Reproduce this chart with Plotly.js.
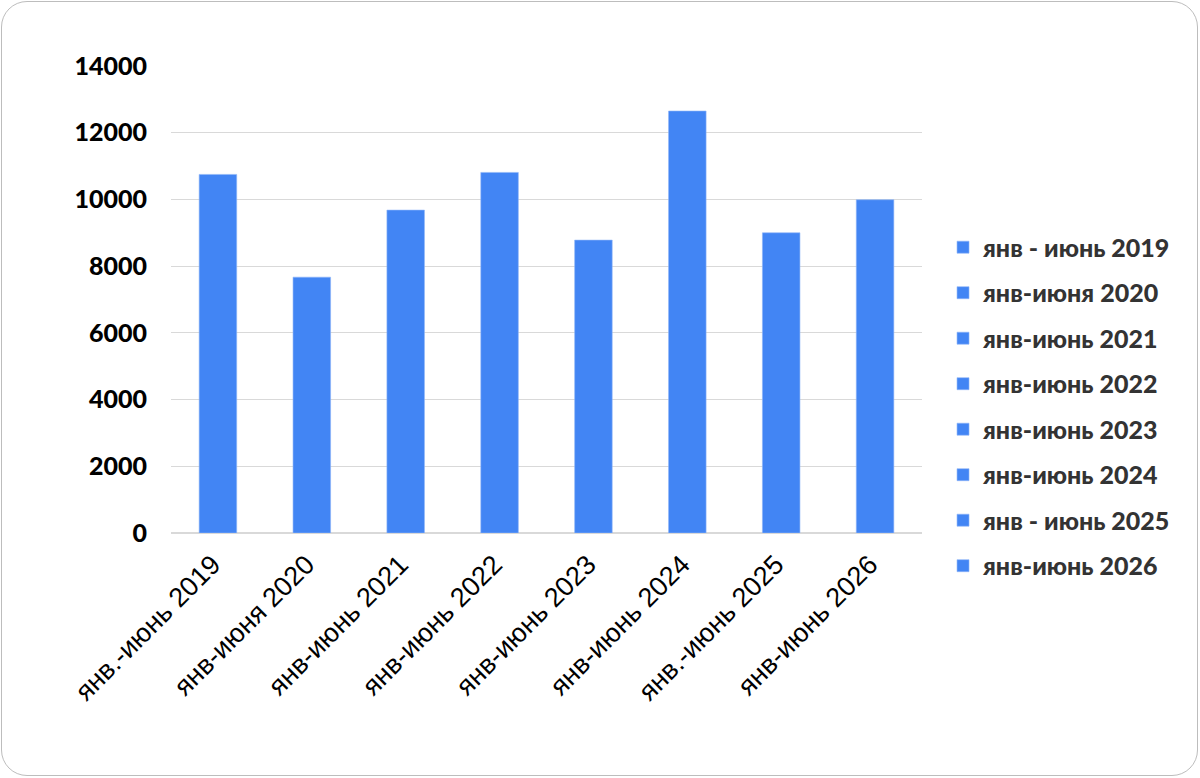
<!DOCTYPE html>
<html>
<head>
<meta charset="utf-8">
<script src="https://cdn.plot.ly/plotly-3.0.1.min.js"></script>
<style>
html,body{margin:0;padding:0;background:#fff;}
#wrap{position:relative;width:1200px;height:778px;}
#chart{position:absolute;left:0;top:0;width:1200px;height:778px;}
#frame{position:absolute;left:1px;top:1px;width:1195px;height:773px;border:1.5px solid #bdbdbd;border-radius:26px;pointer-events:none;}
</style>
</head>
<body>
<div id="wrap"><div id="chart"></div><div id="frame"></div></div>
<script>
const categories = ["янв.-июнь 2019","янв-июня 2020","янв-июнь 2021","янв-июнь 2022","янв-июнь 2023","янв-июнь 2024","янв.-июнь 2025","янв-июнь 2026"];
const legendNames = ["янв - июнь 2019","янв-июня 2020","янв-июнь 2021","янв-июнь 2022","янв-июнь 2023","янв-июнь 2024","янв - июнь 2025","янв-июнь 2026"];
const values = [10750, 7670, 9680, 10810, 8780, 12650, 9000, 9990];
const yTicks = [0, 2000, 4000, 6000, 8000, 10000, 12000, 14000];

const barColor = "#4285F4";

const traces = categories.map((c, i) => ({
  type: "bar",
  x: [c],
  y: [values[i]],
  name: legendNames[i],
  legendgroup: "g" + i,
  marker: {color: barColor, line: {color: "#8fb6f8", width: 0.6}},
  width: 0.4,
  hoverinfo: "x+y"
}));

const layout = {
  width: 1200,
  height: 778,
  margin: {l: 171, r: 278, t: 66, b: 245, pad: 0},
  paper_bgcolor: "rgba(0,0,0,0)",
  plot_bgcolor: "rgba(0,0,0,0)",
  barmode: "overlay",
  showlegend: true,
  xaxis: {
    type: "category",
    categoryorder: "array",
    categoryarray: categories,
    tickvals: categories,
    ticktext: categories.map(c => c + "\u00a0"),
    tickangle: -45,
    tickfont: {family: "Liberation Sans, Arial, sans-serif", size: 27, color: "#000"},
    ticklabelstandoff: 4,
    showgrid: false,
    showline: false,
    zeroline: false,
    ticks: "",
    automargin: false
  },
  yaxis: {
    range: [0, 14000],
    tickvals: yTicks,
    ticktext: yTicks.map(String),
    tickfont: {family: "Lato, Inter, sans-serif", size: 25, color: "#000", weight: 900},
    showgrid: true,
    gridcolor: "#d9d9d9",
    gridwidth: 1.2,
    zeroline: true,
    zerolinecolor: "#d9d9d9",
    zerolinewidth: 1.2,
    showline: false,
    ticks: "",
    ticklabelstandoff: 23,
    automargin: false
  },
  legend: {
    x: 1.028,
    xanchor: "left",
    y: 0.271,
    yanchor: "middle",
    font: {family: "Lato, Inter, sans-serif", size: 25, color: "#333", weight: 900},
    tracegroupgap: 10,
    bgcolor: "rgba(0,0,0,0)",
    traceorder: "grouped"
  }
};

Plotly.newPlot("chart", traces, layout, {displayModeBar: false, staticPlot: true});
</script>
</body>
</html>
